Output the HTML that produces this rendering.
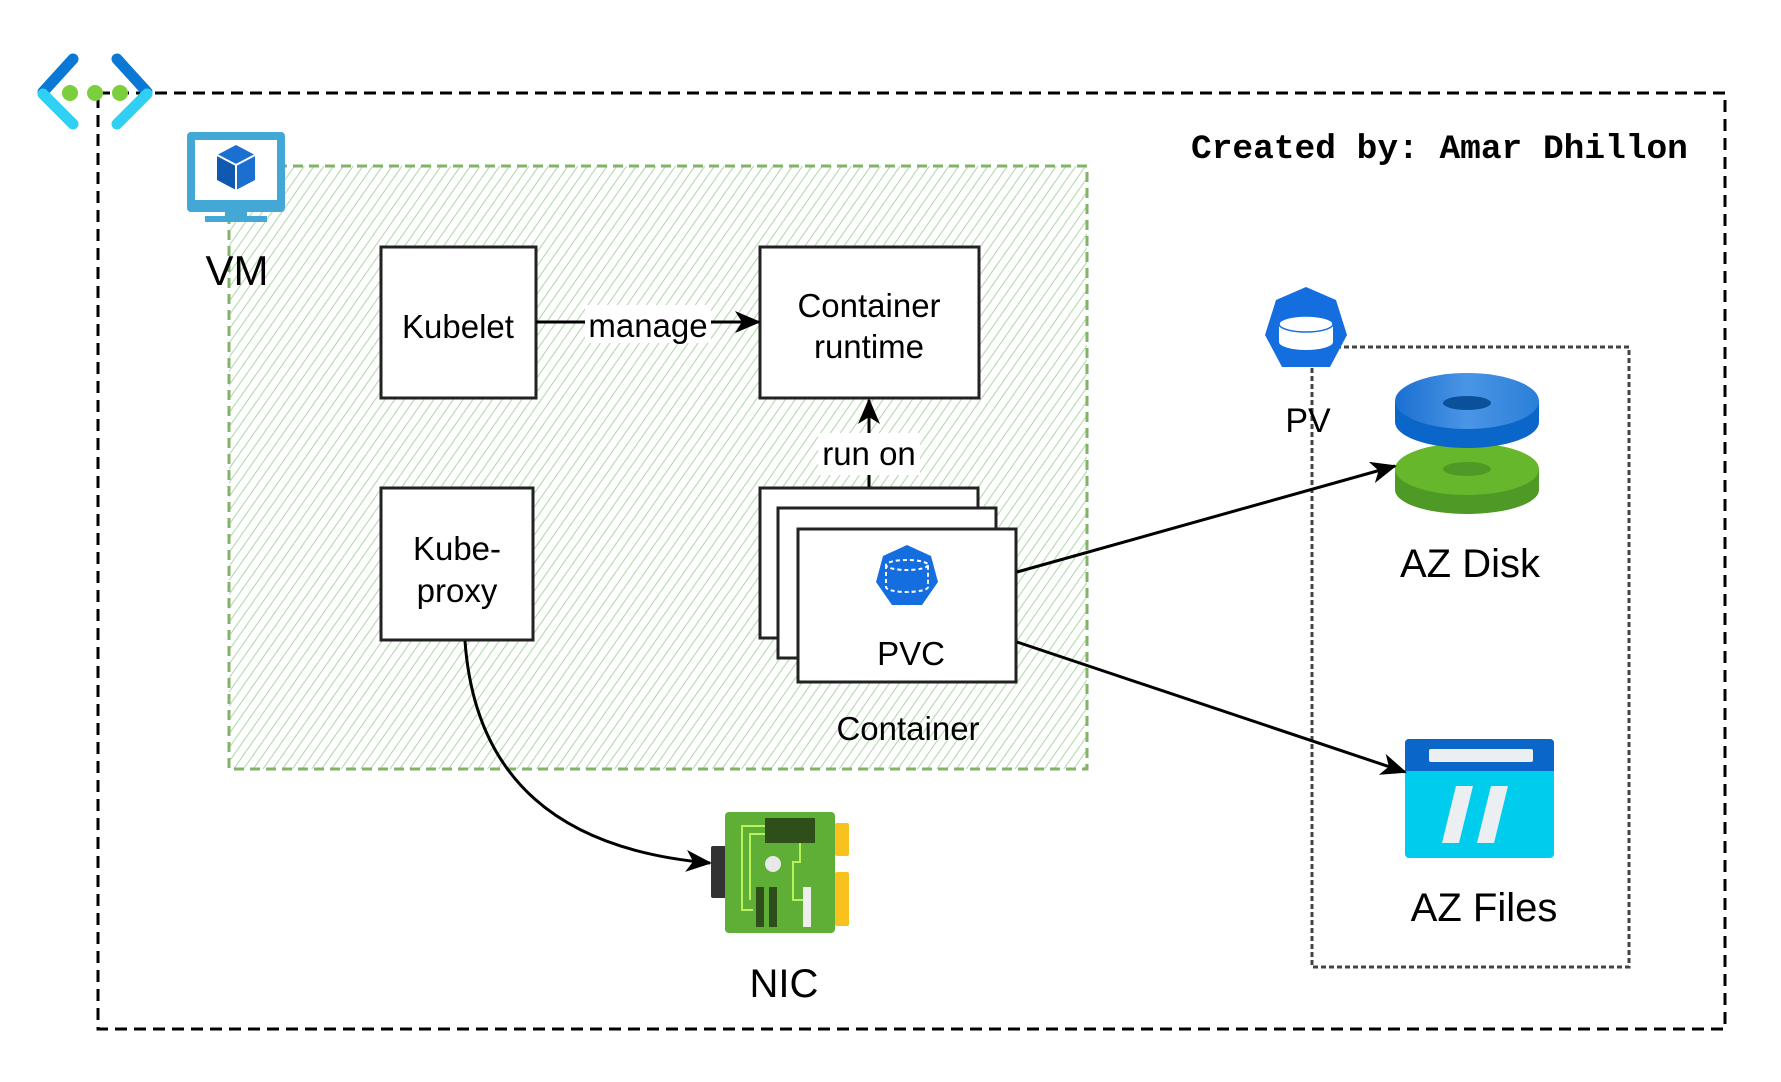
<!DOCTYPE html>
<html><head><meta charset="utf-8"><style>
html,body{margin:0;padding:0;background:#fff;width:1781px;height:1082px;overflow:hidden}
svg text{font-family:"Liberation Sans",sans-serif;fill:#000}
</style></head><body>
<svg width="1781" height="1082" viewBox="0 0 1781 1082" xmlns="http://www.w3.org/2000/svg">
<defs>
<pattern id="hatch" width="8" height="8" patternUnits="userSpaceOnUse" patternTransform="rotate(35)">
<line x1="0" y1="0" x2="0" y2="8" stroke="#b3d9ad" stroke-width="2.2"/>
</pattern>
<marker id="ar" markerWidth="26" markerHeight="22" refX="24" refY="11" orient="auto" markerUnits="userSpaceOnUse" viewBox="0 0 26 22">
<path d="M0,0 L26,11 L0,22 L7,11 Z" fill="#000"/>
</marker>
<linearGradient id="blu" x1="0" x2="1"><stop offset="0" stop-color="#1a6fd0"/><stop offset="0.5" stop-color="#4a95e6"/><stop offset="1" stop-color="#2b7fd8"/></linearGradient>
</defs>

<!-- outer dashed -->
<rect x="98" y="93" width="1627" height="936" fill="none" stroke="#000" stroke-width="3" stroke-dasharray="12 7"/>

<!-- green region -->
<rect x="229" y="166" width="858" height="603" fill="url(#hatch)" stroke="#82b366" stroke-width="3" stroke-dasharray="10 6"/>

<!-- network icon -->
<g stroke-width="11" stroke-linecap="round" fill="none">
<line x1="73" y1="59" x2="43" y2="92" stroke="#0a78d4"/>
<line x1="43" y1="94" x2="73" y2="124" stroke="#30d0f5"/>
<line x1="117" y1="59" x2="147" y2="92" stroke="#0a78d4"/>
<line x1="147" y1="94" x2="117" y2="124" stroke="#30d0f5"/>
</g>
<circle cx="70" cy="93" r="8" fill="#7ccf3c"/>
<circle cx="95" cy="93" r="8" fill="#7ccf3c"/>
<circle cx="120" cy="93" r="8" fill="#7ccf3c"/>

<!-- VM icon -->
<g>
<rect x="187" y="132" width="98" height="80" rx="4" fill="#44a8d6"/>
<rect x="195" y="140" width="82" height="60" fill="#fff"/>
<rect x="225" y="212" width="22" height="6" fill="#44a8d6"/>
<rect x="205" y="216" width="62" height="6" fill="#44a8d6"/>
<polygon points="236,145 255,155 236,165 217,155" fill="#1a6fd0"/>
<polygon points="217,155 236,165 236,190 217,180" fill="#0f5ab0"/>
<polygon points="255,155 236,165 236,190 255,180" fill="#1a6fd0"/>
<line x1="236" y1="165" x2="236" y2="190" stroke="#fff" stroke-width="2"/>
<polyline points="217,155 236,165 255,155" fill="none" stroke="#fff" stroke-width="2"/>
</g>
<text x="237" y="285" font-size="42" text-anchor="middle">VM</text>

<!-- Kubelet -->
<rect x="381" y="247" width="155" height="151" fill="#fff" stroke="#222" stroke-width="3"/>
<text x="458" y="338" font-size="33" text-anchor="middle">Kubelet</text>

<!-- Container runtime -->
<rect x="760" y="247" width="219" height="151" fill="#fff" stroke="#222" stroke-width="3"/>
<text x="869" y="317" font-size="33" text-anchor="middle">Container</text>
<text x="869" y="358" font-size="33" text-anchor="middle">runtime</text>

<!-- manage arrow -->
<line x1="536" y1="322" x2="759" y2="322" stroke="#000" stroke-width="3" marker-end="url(#ar)"/>
<rect x="585" y="305" width="126" height="38" fill="#fff"/>
<text x="648" y="337" font-size="33" text-anchor="middle">manage</text>

<!-- Kube-proxy -->
<rect x="381" y="488" width="152" height="152" fill="#fff" stroke="#222" stroke-width="3"/>
<text x="457" y="560" font-size="33" text-anchor="middle">Kube-</text>
<text x="457" y="602" font-size="33" text-anchor="middle">proxy</text>

<!-- run on arrow -->
<line x1="869" y1="488" x2="869" y2="400" stroke="#000" stroke-width="3" marker-end="url(#ar)"/>
<rect x="818" y="433" width="102" height="42" fill="#fff"/>
<text x="869" y="465" font-size="33" text-anchor="middle">run on</text>

<!-- stacked containers -->
<rect x="760" y="488" width="218" height="150" fill="#fff" stroke="#222" stroke-width="3"/>
<rect x="778" y="508" width="218" height="150" fill="#fff" stroke="#222" stroke-width="3"/>
<rect x="798" y="529" width="218" height="153" fill="#fff" stroke="#222" stroke-width="3"/>
<polygon points="907,545 931,556 938,582 922,605 892,605 876,582 883,556" fill="#156ee0"/>
<ellipse cx="907" cy="565" rx="21" ry="5" fill="none" stroke="#fff" stroke-width="2" stroke-dasharray="4 3"/>
<path d="M886,565 V587 A21,5 0 0 0 928,587 V565" fill="none" stroke="#fff" stroke-width="2" stroke-dasharray="4 3"/>
<text x="911" y="665" font-size="33" text-anchor="middle">PVC</text>
<text x="908" y="740" font-size="33" text-anchor="middle">Container</text>

<!-- Created by -->
<text x="1191" y="158" font-size="34.5" font-weight="bold" style="font-family:'Liberation Mono',monospace" fill="#333">Created by: Amar Dhillon</text>

<!-- dotted PV box -->
<rect x="1312" y="347" width="317" height="620" fill="none" stroke="#444" stroke-width="3" stroke-dasharray="5 3"/>

<!-- PV icon -->
<polygon points="1306,287 1336,300 1347,335 1330,367 1282,367 1265,335 1276,300" fill="#156ee0"/>
<path d="M1279,324 V342 A27,8 0 0 0 1333,342 V324" fill="#fff"/>
<ellipse cx="1306" cy="324" rx="27" ry="8" fill="#fff" stroke="#156ee0" stroke-width="1.5"/>
<text x="1308" y="432" font-size="34" text-anchor="middle">PV</text>

<!-- AZ Disk -->
<g>
<path d="M1395,469 V490 A72,24 0 0 0 1539,490 V469 Z" fill="#4f9a26"/>
<ellipse cx="1467" cy="469" rx="72" ry="26" fill="#67b72d"/>
<ellipse cx="1467" cy="469" rx="24" ry="7" fill="#4f9a26"/>
<path d="M1395,401 V422 A72,26 0 0 0 1539,422 V401 Z" fill="#0a66c8"/>
<ellipse cx="1467" cy="401" rx="72" ry="28" fill="url(#blu)"/>
<ellipse cx="1467" cy="403" rx="24" ry="7" fill="#0a5199"/>
</g>
<text x="1470" y="577" font-size="40" text-anchor="middle">AZ Disk</text>

<!-- AZ Files -->
<g>
<rect x="1405" y="739" width="149" height="119" rx="4" fill="#00cdee"/>
<path d="M1405,771 V743 A4,4 0 0 1 1409,739 H1550 A4,4 0 0 1 1554,743 V771 Z" fill="#0a66c8"/>
<rect x="1429" y="749" width="104" height="13" rx="2" fill="#eceff1"/>
<polygon points="1456,786 1473,786 1459,843 1442,843" fill="#eceff1"/>
<polygon points="1491,786 1508,786 1494,843 1477,843" fill="#eceff1"/>
</g>
<text x="1484" y="921" font-size="40" text-anchor="middle">AZ Files</text>

<!-- NIC -->
<g>
<rect x="711" y="846" width="16" height="52" rx="2" fill="#333"/>
<rect x="835" y="823" width="14" height="33" rx="2" fill="#f9c11d"/>
<rect x="835" y="872" width="14" height="54" rx="2" fill="#f9c11d"/>
<rect x="725" y="812" width="110" height="121" rx="4" fill="#5fae35"/>
<rect x="765" y="818" width="50" height="25" fill="#2f4f1a"/>
<polyline points="765,826 742,826 742,910 753,910" fill="none" stroke="#b7f25a" stroke-width="2"/>
<polyline points="765,834 750,834 750,900" fill="none" stroke="#b7f25a" stroke-width="2"/>
<polyline points="800,843 800,862 793,862 793,900 805,900" fill="none" stroke="#b7f25a" stroke-width="2"/>
<circle cx="773" cy="864" r="8" fill="#e8e8e8"/>
<rect x="756" y="887" width="8" height="40" fill="#2f4f1a"/>
<rect x="769" y="887" width="8" height="40" fill="#2f4f1a"/>
<rect x="803" y="887" width="8" height="40" fill="#eee"/>
</g>
<text x="784" y="997" font-size="40" text-anchor="middle">NIC</text>

<!-- connectors -->
<path d="M465,641 C475,780 560,850 710,863" fill="none" stroke="#000" stroke-width="3" marker-end="url(#ar)"/>
<line x1="1017" y1="572" x2="1395" y2="466" stroke="#000" stroke-width="3" marker-end="url(#ar)"/>
<line x1="1017" y1="642" x2="1405" y2="772" stroke="#000" stroke-width="3" marker-end="url(#ar)"/>
</svg>
</body></html>
